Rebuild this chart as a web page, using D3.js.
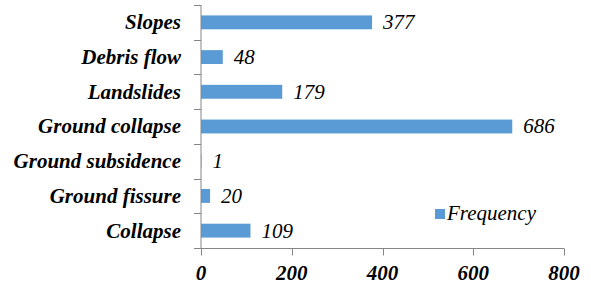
<!DOCTYPE html>
<html><head><meta charset="utf-8">
<script src="https://cdn.jsdelivr.net/npm/d3@7"></script>
<style>body{margin:0;background:#fff}svg{display:block}text{font-family:"Liberation Serif",serif}</style>
</head><body>
<script>
const categories = ["Slopes","Debris flow","Landslides","Ground collapse","Ground subsidence","Ground fissure","Collapse"];
const values = [377,48,179,686,1,20,109];
const xTicks = [0,200,400,600,800];
const seriesName = "Frequency";

const W=591,H=288;
const svg=d3.select("body").append("svg").attr("width",W).attr("height",H);
const x=d3.scaleLinear().domain([0,800]).range([201,564]);
const y=d3.scaleBand().domain(categories).range([5,248]).paddingInner(0.6).paddingOuter(0.3);
const yb=d3.scaleBand().domain(categories).range([5,248]);
const axisColor="#868686";
const font="Liberation Serif";

// bars
svg.selectAll("rect.bar").data(categories).enter().append("rect")
 .attr("x",x(0)).attr("y",d=>y(d)).attr("height",y.bandwidth())
 .attr("width",(d,i)=>x(values[i])-x(0)).attr("fill","#5B9BD5");

// value labels
svg.selectAll("text.val").data(categories).enter().append("text")
 .attr("x",(d,i)=>x(values[i])+11).attr("y",d=>yb(d)+yb.bandwidth()/2).attr("dy","0.33em")
 .style("font-family",font).style("font-style","italic").style("font-size","21px").attr("fill","#000")
 .text((d,i)=>values[i]);

// y axis
const gy=svg.append("g").attr("transform",`translate(${x(0)},0)`);
gy.append("line").attr("x1",0).attr("x2",0).attr("y1",5).attr("y2",248).attr("stroke",axisColor);
const yEdges=d3.range(categories.length+1).map(i=>5+i*yb.bandwidth());
gy.selectAll("line.t").data(yEdges).enter().append("line")
 .attr("x1",-7).attr("x2",0).attr("y1",d=>Math.round(d)+0.5).attr("y2",d=>Math.round(d)+0.5).attr("stroke",axisColor);
gy.selectAll("text").data(categories).enter().append("text")
 .attr("x",-20).attr("y",d=>yb(d)+yb.bandwidth()/2).attr("dy","0.33em").attr("text-anchor","end")
 .style("font-family",font).style("font-style","italic").style("font-weight","bold").style("font-size","21px").attr("fill","#000")
 .text(d=>d);

// x axis
const gx=svg.append("g").attr("transform","translate(0,248.5)");
gx.append("line").attr("x1",x(0)).attr("x2",x(800)).attr("y1",0).attr("y2",0).attr("stroke",axisColor);
gx.selectAll("line.t").data(xTicks).enter().append("line")
 .attr("x1",d=>Math.round(x(d))+0.5).attr("x2",d=>Math.round(x(d))+0.5).attr("y1",0).attr("y2",7).attr("stroke",axisColor);
gx.selectAll("text").data(xTicks).enter().append("text")
 .attr("x",d=>x(d)).attr("y",31).attr("text-anchor","middle")
 .style("font-family",font).style("font-style","italic").style("font-weight","bold").style("font-size","21px").attr("fill","#000")
 .text(d=>d);

// legend
const lg=svg.append("g").attr("transform","translate(435,209)");
lg.append("rect").attr("width",10).attr("height",10).attr("fill","#5B9BD5");
lg.append("text").attr("x",12).attr("y",11).style("font-family",font).style("font-style","italic").style("font-size","21px").attr("fill","#000").text(seriesName);
</script>
</body></html>
